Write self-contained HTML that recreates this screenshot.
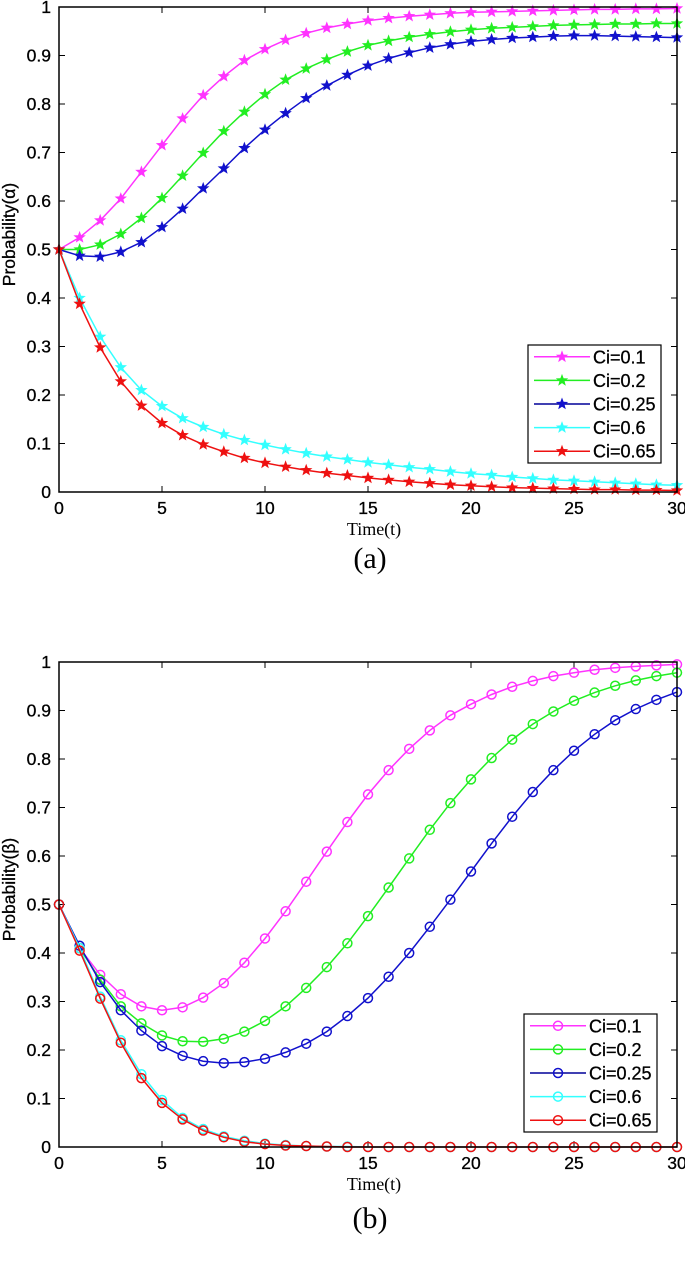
<!DOCTYPE html>
<html><head><meta charset="utf-8"><style>
body{margin:0;background:#fff;width:685px;height:1263px;overflow:hidden}
svg{display:block}
.tick{font-family:"Liberation Sans",Arial,sans-serif;font-size:17.5px;fill:#000;stroke:#000;stroke-width:0.3px}
.lgt{font-family:"Liberation Sans",Arial,sans-serif;font-size:18px;fill:#000;stroke:#000;stroke-width:0.3px}
.ttl{font-family:"Liberation Serif",serif;font-size:18px;fill:#000}
</style></head><body>
<svg id="s" width="685" height="1263" xmlns="http://www.w3.org/2000/svg"></svg>
<script>
const times=[...Array(31).keys()];
const labels=["Ci=0.1","Ci=0.2","Ci=0.25","Ci=0.6","Ci=0.65"];
const colors=["#ff33ff","#22ee22","#1111cc","#33ffff","#ee1111"];
const xTicks=[0,5,10,15,20,25,30];
const yTicks=[0,0.1,0.2,0.3,0.4,0.5,0.6,0.7,0.8,0.9,1];
const yTickLabels=["0","0.1","0.2","0.3","0.4","0.5","0.6","0.7","0.8","0.9","1"];
const a1=[0.5,0.525,0.56,0.605,0.66,0.715,0.77,0.818,0.857,0.89,0.913,0.932,0.946,0.957,0.965,0.972,0.977,0.981,0.984,0.987,0.989,0.99,0.991,0.992,0.993,0.994,0.995,0.995,0.996,0.996,0.997];
const a2=[0.5,0.5,0.51,0.532,0.565,0.606,0.652,0.699,0.744,0.784,0.82,0.85,0.873,0.892,0.908,0.921,0.93,0.938,0.944,0.949,0.953,0.956,0.958,0.96,0.962,0.963,0.964,0.965,0.965,0.966,0.966];
const a3=[0.5,0.487,0.485,0.495,0.515,0.546,0.584,0.626,0.667,0.709,0.747,0.781,0.812,0.838,0.86,0.879,0.894,0.906,0.916,0.923,0.929,0.933,0.936,0.938,0.94,0.941,0.941,0.94,0.939,0.938,0.937];
const a4=[0.5,0.4,0.32,0.257,0.21,0.177,0.152,0.134,0.119,0.107,0.097,0.088,0.08,0.073,0.067,0.061,0.056,0.051,0.047,0.042,0.038,0.035,0.031,0.028,0.025,0.023,0.021,0.019,0.017,0.015,0.014];
const a5=[0.5,0.388,0.298,0.228,0.178,0.142,0.117,0.098,0.083,0.07,0.06,0.052,0.045,0.039,0.034,0.029,0.025,0.021,0.018,0.015,0.013,0.011,0.009,0.008,0.007,0.006,0.005,0.005,0.004,0.004,0.003];
const b1=[0.5,0.41,0.355,0.315,0.29,0.282,0.288,0.308,0.338,0.38,0.43,0.486,0.547,0.609,0.67,0.727,0.777,0.821,0.859,0.89,0.913,0.933,0.949,0.961,0.971,0.978,0.984,0.988,0.991,0.993,0.995];
const b2=[0.5,0.41,0.345,0.29,0.255,0.23,0.218,0.217,0.223,0.238,0.26,0.29,0.328,0.371,0.42,0.476,0.535,0.595,0.654,0.709,0.758,0.802,0.84,0.872,0.898,0.92,0.937,0.951,0.962,0.971,0.978];
const b3=[0.5,0.415,0.34,0.282,0.24,0.208,0.188,0.177,0.173,0.175,0.182,0.195,0.213,0.238,0.27,0.307,0.351,0.4,0.454,0.51,0.568,0.626,0.681,0.732,0.777,0.817,0.851,0.88,0.903,0.922,0.938];
const b4=[0.5,0.41,0.31,0.22,0.15,0.097,0.06,0.037,0.022,0.013,0.007,0.004,0.002,0.001,0.001,0,0,0,0,0,0,0,0,0,0,0,0,0,0,0,0];
const b5=[0.5,0.405,0.306,0.215,0.142,0.091,0.057,0.034,0.02,0.011,0.006,0.003,0.002,0.001,0,0,0,0,0,0,0,0,0,0,0,0,0,0,0,0,0];

const NS="http://www.w3.org/2000/svg";
const svg=document.getElementById('s');
function mk(tag,attrs,parent){const e=document.createElementNS(NS,tag);for(const k in attrs)e.setAttribute(k,attrs[k]);(parent||svg).appendChild(e);return e;}
function star(cx,cy,r){let p=[];for(let i=0;i<10;i++){const rr=i%2?r*0.42:r;const a=-Math.PI/2+i*Math.PI/5;p.push((cx+rr*Math.cos(a)).toFixed(1)+','+(cy+rr*Math.sin(a)).toFixed(1));}return p.join(' ');}

function chart(name,top,bottom,series,marker,ytitle,lg,caption,capY){
  const L=59,R=677;
  const g=mk('g',{});
  
  
  const xs=t=>L+(R-L)*t/30, ys=v=>bottom-(bottom-top)*v;
  xTicks.forEach(t=>{
    mk('line',{x1:xs(t),x2:xs(t),y1:bottom,y2:bottom-6,stroke:'#000'},g);
    mk('line',{x1:xs(t),x2:xs(t),y1:top,y2:top+6,stroke:'#000'},g);
    const tx=mk('text',{x:xs(t),y:bottom+22,'text-anchor':'middle',class:'tick'},g);tx.textContent=t;
    
    
  });
  yTicks.forEach((v,i)=>{
    mk('line',{x1:L,x2:L+6,y1:ys(v),y2:ys(v),stroke:'#000'},g);
    mk('line',{x1:R,x2:R-6,y1:ys(v),y2:ys(v),stroke:'#000'},g);
    const tx=mk('text',{x:L-8,y:ys(v)+6,'text-anchor':'end',class:'tick'},g);tx.textContent=yTickLabels[i];
    
    
  });
  series.forEach((d,si)=>{
    const sg=mk('g',{},g);
    
    
    mk('polyline',{points:d.map((v,i)=>xs(times[i]).toFixed(1)+','+ys(v).toFixed(1)).join(' '),fill:'none',stroke:colors[si],'stroke-width':1.5},sg);
    d.forEach((v,i)=>{
      if(marker==='star') mk('polygon',{points:star(xs(times[i]),ys(v),6.5),fill:colors[si]},sg);
      else mk('circle',{cx:xs(times[i]),cy:ys(v),r:4.5,fill:'none',stroke:colors[si],'stroke-width':1.5},sg);
    });
  });
  mk('rect',{x:L,y:top,width:R-L,height:bottom-top,fill:'none',stroke:'#000','stroke-width':1.5},g);
  const lgG=mk('g',{},g);
  
  
  mk('rect',{x:lg[0],y:lg[1],width:lg[2],height:lg[3],fill:'#fff',stroke:'#000','stroke-width':1.2},lgG);
  const step=lg[3]/5;
  labels.forEach((lb,i)=>{
    const yy=lg[1]+step*(i+0.5);
    const c=i===2?'#000099':colors[i];
    mk('line',{x1:lg[0]+6,x2:lg[0]+62,y1:yy,y2:yy,stroke:c,'stroke-width':1.5},lgG);
    if(marker==='star') mk('polygon',{points:star(lg[0]+34,yy,6.5),fill:colors[i]},lgG);
    else mk('circle',{cx:lg[0]+34,cy:yy,r:4.5,fill:'none',stroke:colors[i],'stroke-width':1.5},lgG);
    const tx=mk('text',{x:lg[0]+65,y:yy+6.5,class:'lgt'},lgG);tx.textContent=lb;
    
    
  });
  const xt=mk('text',{x:(L+R)/2+6,y:bottom+43,'text-anchor':'middle',class:'ttl'},g);xt.textContent='Time(t)';
  
  
  const yt=mk('text',{x:0,y:0,'text-anchor':'middle',class:'tick',transform:`translate(15,${(top+bottom)/2 - 15}) rotate(-90)`},g);yt.textContent=ytitle;
  
  
  const cp=mk('text',{x:370,y:capY,'text-anchor':'middle',class:'ttl'},g);cp.textContent=caption;cp.setAttribute('style','font-size:30px');
  
  
}
chart('chart-a',7,492,[a1,a2,a3,a4,a5],'star','Probability(α)',[528,345,133,118],'(a)',568);
chart('chart-b',662,1147,[b1,b2,b3,b4,b5],'circle','Probability(β)',[524,1014,133,118],'(b)',1228);
</script>
</body></html>
